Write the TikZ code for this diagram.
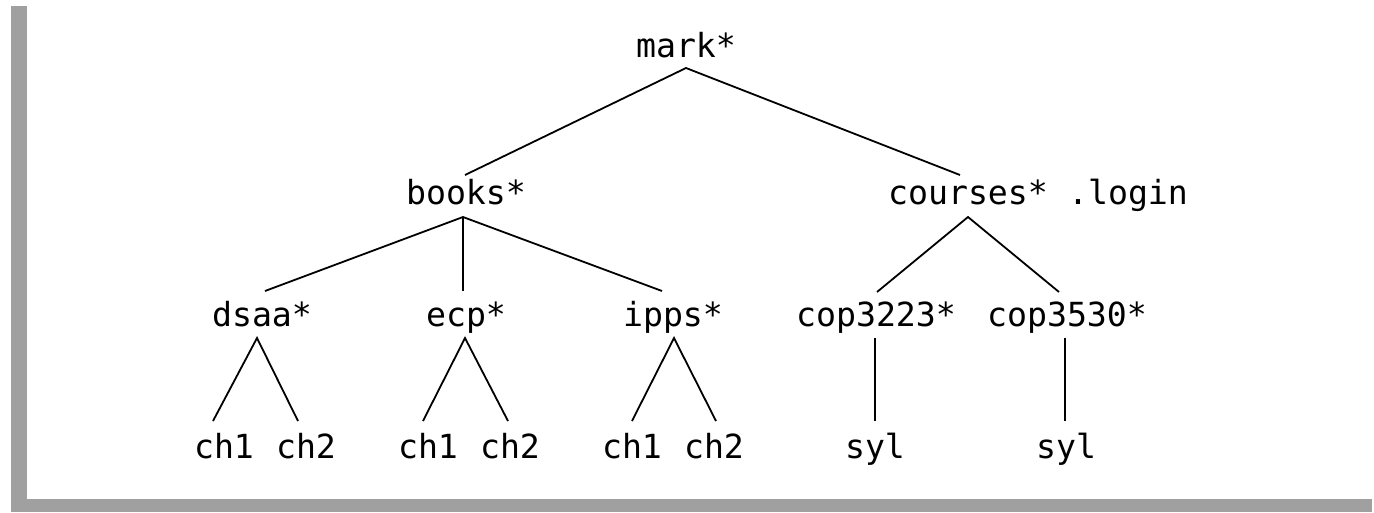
\documentclass[tikz,border=0pt]{standalone}
\usepackage{fontspec}
\setmonofont{DejaVu Sans Mono}
\usetikzlibrary{calc}
\definecolor{framegray}{HTML}{A0A0A0}
\tikzset{
  lbl/.style={anchor=base, inner sep=0pt, font=\ttfamily\fontsize{33.2}{40}\selectfont},
  edge/.style={draw=black, line width=1.8pt},
  frame/.style={fill=framegray, draw=none}
}
\begin{document}
\begin{tikzpicture}[x=1pt,y=-1pt]
\path[use as bounding box, fill=white] (0,0) rectangle (1374,512);
% frame
\path[frame] (11,6) rectangle (27,512);
\path[frame] (11,499) rectangle (1372,512);
% nodes
\node[lbl] (mark) at (686,57) {mark*};
\node[lbl] (books) at (466,204) {books*};
\node[lbl] (courses) at (968,204) {courses*};
\node[lbl] (login) at (1128,204) {.login};
\node[lbl] (dsaa) at (262,326) {dsaa*};
\node[lbl] (ecp) at (466,326) {ecp*};
\node[lbl] (ipps) at (673,326) {ipps*};
\node[lbl] (copa) at (876,326) {cop3223*};
\node[lbl] (copb) at (1067,326) {cop3530*};
\node[lbl] (d1) at (224,458) {ch1};
\node[lbl] (d2) at (306,458) {ch2};
\node[lbl] (e1) at (428,458) {ch1};
\node[lbl] (e2) at (510,458) {ch2};
\node[lbl] (i1) at (632,458) {ch1};
\node[lbl] (i2) at (714,458) {ch2};
\node[lbl] (s1) at (875,458) {syl};
\node[lbl] (s2) at (1066,458) {syl};
% connectors
\draw[edge] ($(books.base)+(-1,-29)$) -- ($(mark.base)+(0,11)$) -- ($(courses.base)+(-8,-29)$);
\draw[edge] ($(dsaa.base)+(3,-35)$) -- ($(books.base)+(-3,13)$) -- ($(ipps.base)+(-11,-35)$);
\draw[edge] ($(books.base)+(-3,13)$) -- ($(ecp.base)+(-3,-35)$);
\draw[edge] ($(copa.base)+(1,-34)$) -- ($(courses.base)+(0,13)$) -- ($(copb.base)+(-8,-34)$);
\draw[edge] ($(d1.base)+(-11,-37)$) -- ($(dsaa.base)+(-5,12)$) -- ($(d2.base)+(-8,-37)$);
\draw[edge] ($(e1.base)+(-5,-37)$) -- ($(ecp.base)+(-1,12)$) -- ($(e2.base)+(-2,-37)$);
\draw[edge] ($(i1.base)+(0,-37)$) -- ($(ipps.base)+(1,12)$) -- ($(i2.base)+(2,-37)$);
\draw[edge] ($(copa.base)+(-1,12)$) -- ($(s1.base)+(0,-37)$);
\draw[edge] ($(copb.base)+(-2,12)$) -- ($(s2.base)+(-1,-37)$);
\end{tikzpicture}
\end{document}
